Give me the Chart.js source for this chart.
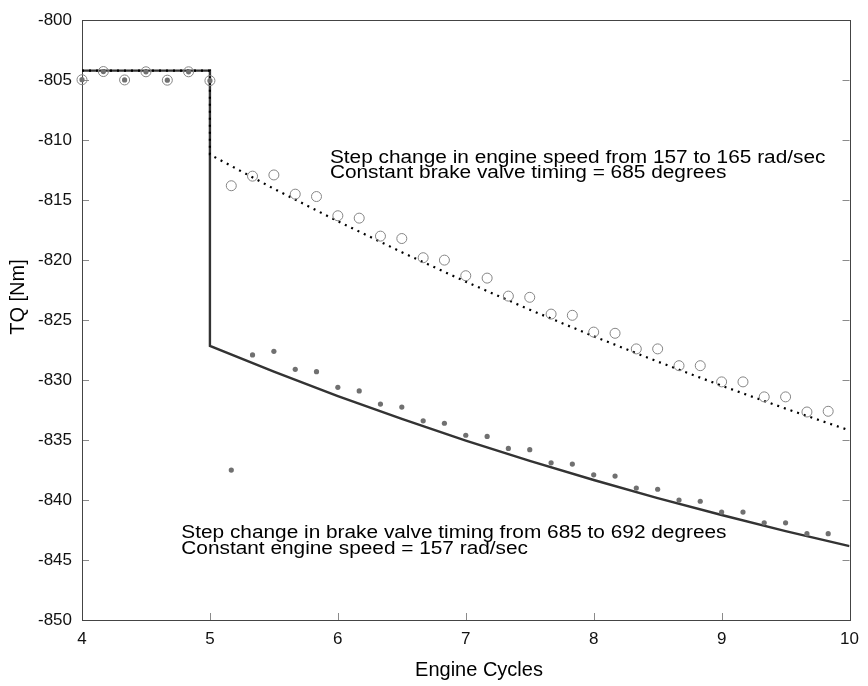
<!DOCTYPE html>
<html>
<head>
<meta charset="utf-8">
<title>TQ vs Engine Cycles</title>
<script src="https://cdn.jsdelivr.net/npm/chart.js@4.4.1/dist/chart.umd.min.js"></script>
<style>
  html, body { margin: 0; padding: 0; background: #fff; }
  #wrap { width: 868px; height: 686px; }
</style>
</head>
<body>
<div id="wrap"><canvas id="chart" width="868" height="686"></canvas></div>
<script>
// measured samples, 6 per engine cycle
const cycles = [4, 4.167, 4.333, 4.5, 4.667, 4.833, 5,
  5.167, 5.333, 5.5, 5.667, 5.833, 6, 6.167, 6.333, 6.5, 6.667, 6.833,
  7, 7.167, 7.333, 7.5, 7.667, 7.833, 8, 8.167, 8.333, 8.5, 8.667, 8.833,
  9, 9.167, 9.333, 9.5, 9.667, 9.833];

// step in engine speed (open circles)
const speedStepTQ = [-804.96, -804.28, -804.98, -804.3, -805.0, -804.3, -805.04,
  -813.8, -813.0, -812.9, -814.5, -814.7, -816.3, -816.5, -818.0, -818.2, -819.8, -820.0,
  -821.3, -821.5, -823.0, -823.1, -824.5, -824.6, -826.0, -826.1, -827.4, -827.4, -828.8, -828.8,
  -830.15, -830.15, -831.4, -831.4, -832.66, -832.6];

// step in brake valve timing (filled dots)
const valveStepTQ = [-804.96, -804.28, -804.98, -804.3, -805.0, -804.3, -805.04,
  -837.5, -827.9, -827.6, -829.1, -829.3, -830.6, -830.9, -832.0, -832.25, -833.4, -833.6,
  -834.6, -834.7, -835.7, -835.8, -836.9, -837.0, -837.9, -838.0, -839.0, -839.1, -840.0, -840.1,
  -841.0, -841.0, -841.9, -841.9, -842.8, -842.8];

// model responses
const modelX = [4, 5, 5, 5.5, 6, 6.5, 7, 7.5, 8, 8.5, 9, 9.5, 10];
const speedModelTQ = [-804.2, -804.2, -811.2, -814.05, -816.76, -819.34, -821.8, -824.13, -826.35, -828.46, -830.47, -832.38, -834.2];
const valveModelTQ = [-804.2, -804.2, -827.15, -829.3, -831.33, -833.24, -835.04, -836.74, -838.33, -839.84, -841.25, -842.59, -843.84];

const xTicks = [4, 5, 6, 7, 8, 9, 10];
const yTicks = [-800, -805, -810, -815, -820, -825, -830, -835, -840, -845, -850];

const noteSpeed = ["Step change in engine speed from 157 to 165 rad/sec", "Constant brake valve timing = 685 degrees"];
const noteValve = ["Step change in brake valve timing from 685 to 692 degrees", "Constant engine speed = 157 rad/sec"];

const FONT = '"Liberation Sans", Arial, Helvetica, sans-serif';

function pts(xs, ys) {
  return xs.map((x, i) => ({ x: x, y: ys[i] }));
}

// box around the plot, inward ticks, notes and axis titles
const framePlugin = {
  id: 'frame',
  beforeDatasetsDraw(chart) {
    const ctx = chart.ctx;
    const a = chart.chartArea;
    const xs = chart.scales.x, ys = chart.scales.y;
    ctx.save();
    ctx.strokeStyle = '#8a8a8a';
    ctx.lineWidth = 1;
    ctx.beginPath();
    yTicks.forEach(v => {
      const y = Math.round(ys.getPixelForValue(v)) + 0.5;
      ctx.moveTo(a.left, y); ctx.lineTo(a.left + 7, y);
      ctx.moveTo(a.right, y); ctx.lineTo(a.right - 7, y);
    });
    xTicks.forEach(v => {
      const x = Math.round(xs.getPixelForValue(v)) + 0.5;
      ctx.moveTo(x, a.bottom); ctx.lineTo(x, a.bottom - 7);
    });
    ctx.stroke();
    ctx.strokeStyle = '#444';
    ctx.strokeRect(Math.round(a.left) + 0.5, Math.round(a.top) + 0.5,
      Math.round(a.right - a.left), Math.round(a.bottom - a.top));
    ctx.restore();
  },
  afterDraw(chart) {
    const ctx = chart.ctx;
    const xs = chart.scales.x, ys = chart.scales.y;
    // the notes are a bit wider than their height suggests
    const note = (lines, xv, yv) => {
      ctx.save();
      ctx.translate(xs.getPixelForValue(xv), ys.getPixelForValue(yv));
      ctx.scale(1.19, 1);
      lines.forEach((t, i) => ctx.fillText(t, 0, i * 15.5));
      ctx.restore();
    };
    ctx.save();
    ctx.fillStyle = '#000';
    ctx.font = '17.5px ' + FONT;
    ctx.textAlign = 'left';
    ctx.textBaseline = 'alphabetic';
    note(noteSpeed, 5.938, -811.9);
    note(noteValve, 4.776, -843.2);

    ctx.font = '20px ' + FONT;
    ctx.textAlign = 'center';
    ctx.textBaseline = 'middle';
    ctx.fillText('Engine Cycles', 479, 670);
    ctx.translate(18, 297);
    ctx.rotate(-Math.PI / 2);
    ctx.fillText('TQ [Nm]', 0, 0);
    ctx.restore();
  }
};

new Chart(document.getElementById('chart'), {
  type: 'scatter',
  data: {
    datasets: [
      {
        label: 'engine speed step',
        data: pts(cycles, speedStepTQ),
        showLine: false,
        clip: false,
        pointStyle: 'circle',
        pointRadius: 5,
        pointBorderWidth: 1,
        pointBorderColor: '#858585',
        pointBackgroundColor: 'rgba(0,0,0,0)',
        order: 2
      },
      {
        label: 'brake valve step',
        data: pts(cycles, valveStepTQ),
        showLine: false,
        clip: false,
        pointStyle: 'circle',
        pointRadius: 2.6,
        pointBorderWidth: 0,
        pointBackgroundColor: '#707070',
        order: 1
      },
      {
        label: 'speed model',
        data: pts(modelX, speedModelTQ),
        showLine: true,
        pointRadius: 0,
        borderColor: '#000',
        borderWidth: 2.2,
        borderDash: [2, 5],
        tension: 0,
        order: 3
      },
      {
        label: 'valve model',
        data: pts(modelX, valveModelTQ),
        showLine: true,
        pointRadius: 0,
        borderColor: '#333',
        borderWidth: 2.4,
        tension: 0,
        order: 4
      }
    ]
  },
  options: {
    responsive: false,
    animation: false,
    events: [],
    layout: { padding: { top: 0, right: 13, left: 0, bottom: 0 } },
    plugins: {
      legend: { display: false },
      tooltip: { enabled: false }
    },
    scales: {
      x: {
        type: 'linear',
        min: 4, max: 10,
        afterBuildTicks: s => { s.ticks = xTicks.map(v => ({ value: v })); },
        afterFit: s => { s.height = 66; },
        grid: { display: false, drawTicks: false },
        border: { display: false },
        ticks: { padding: 9, maxRotation: 0, color: '#111', font: { family: FONT, size: 17 } }
      },
      y: {
        type: 'linear',
        min: -850, max: -800,
        afterBuildTicks: s => { s.ticks = yTicks.map(v => ({ value: v })); },
        afterFit: s => { s.width = 82; },
        grid: { display: false, drawTicks: false },
        border: { display: false },
        ticks: { padding: 10, color: '#111', font: { family: FONT, size: 17 } }
      }
    }
  },
  plugins: [framePlugin]
});
</script>
</body>
</html>
